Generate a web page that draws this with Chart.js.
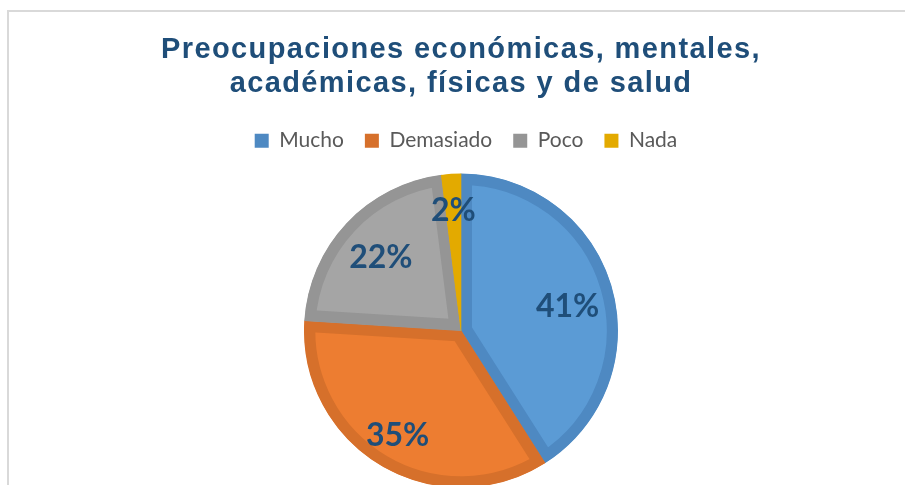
<!DOCTYPE html>
<html>
<head>
<meta charset="utf-8">
<script src="https://cdn.jsdelivr.net/npm/chart.js@4"></script>
<style>
  html, body { margin: 0; padding: 0; background: #ffffff; overflow: hidden; }
  #frame { position: absolute; left: 7px; top: 10px; width: 1000px; height: 600px;
           border-left: 2px solid #d9d9d9; border-top: 2px solid #d9d9d9; }
  #wrap { position: absolute; left: 0; top: 0; width: 905px; height: 511px; }
</style>
</head>
<body>
<div id="frame"></div>
<div id="wrap"><canvas id="c"></canvas></div>
<script>
const titleLines = ["Preocupaciones económicas, mentales,", "académicas, físicas y de salud"];
const categories = ["Mucho", "Demasiado", "Poco", "Nada"];
const values = [41, 35, 22, 2];
const fillColors = ["#5b9bd5", "#ed7d31", "#a5a5a5", "#f2b600"];
const edgeColors = ["#4e89c2", "#d6702b", "#959595", "#e3aa00"];
const labelRadiusFrac = [0.70, 0.77, 0.70, 0.78];
const labelAngleShiftDeg = [2.2, 1.0, 0, 0];

const boxTweaks = {
  id: 'boxTweaks',
  afterLayout(chart) {
    const tb = chart.titleBlock;
    if (tb && !tb._patched) {
      const orig = tb.draw;
      tb.draw = function (area) {
        const ctx = chart.ctx;
        ctx.save();
        ctx.letterSpacing = '1.4px';
        orig.call(this, area);
        ctx.restore();
      };
      tb._patched = true;
    }
    const lg = chart.legend;
    if (lg && !lg._patched) {
      const origL = lg.draw;
      lg.draw = function (area) {
        const ctx = chart.ctx;
        ctx.save();
        ctx.translate(5, 0);
        origL.call(this, area);
        ctx.restore();
      };
      lg._patched = true;
    }
  }
};

const pctLabels = {
  id: 'pctLabels',
  afterDatasetsDraw(chart) {
    const ctx = chart.ctx;
    const meta = chart.getDatasetMeta(0);
    const data = chart.data.datasets[0].data;
    const total = data.reduce((a, b) => a + b, 0);
    ctx.save();
    ctx.font = "bold 32px Lato";
    ctx.fillStyle = "#1f4e79";
    ctx.textAlign = "center";
    ctx.textBaseline = "middle";
    meta.data.forEach((arc, i) => {
      const mid = (arc.startAngle + arc.endAngle) / 2 + labelAngleShiftDeg[i] * Math.PI / 180;
      const r = arc.outerRadius * labelRadiusFrac[i];
      const x = arc.x + Math.cos(mid) * r;
      const y = arc.y + Math.sin(mid) * r + 2.5;
      ctx.fillText(Math.round(data[i] / total * 100) + "%", x, y);
    });
    ctx.restore();
  }
};

new Chart(document.getElementById('c'), {
  type: 'pie',
  data: {
    labels: categories,
    datasets: [{
      data: values,
      backgroundColor: fillColors,
      borderColor: edgeColors,
      borderWidth: 11,
      borderAlign: 'inner',
      radius: 157
    }]
  },
  options: {
    responsive: true,
    maintainAspectRatio: false,
    animation: false,
    events: [],
    layout: { padding: { left: 17, right: 0, top: 0, bottom: 11 } },
    plugins: {
      tooltip: { enabled: false },
      title: {
        display: true,
        text: titleLines,
        color: "#1f4e79",
        font: { family: "'Liberation Sans', Arial, sans-serif", size: 29, weight: 'bold', lineHeight: 1.15 },
        padding: { top: 33.5, bottom: 9 }
      },
      legend: {
        position: 'top',
        labels: {
          color: "#595959",
          font: { family: "Lato, 'Open Sans', sans-serif", size: 21 },
          boxWidth: 14,
          boxHeight: 14,
          padding: 21,
          generateLabels(chart) {
            const ds = chart.data.datasets[0];
            return chart.data.labels.map((l, i) => ({
              text: l,
              fillStyle: ds.borderColor[i],
              strokeStyle: ds.borderColor[i],
              lineWidth: 0,
              fontColor: "#595959",
              hidden: false,
              index: i
            }));
          }
        }
      }
    }
  },
  plugins: [boxTweaks, pctLabels]
});
</script>
</body>
</html>
